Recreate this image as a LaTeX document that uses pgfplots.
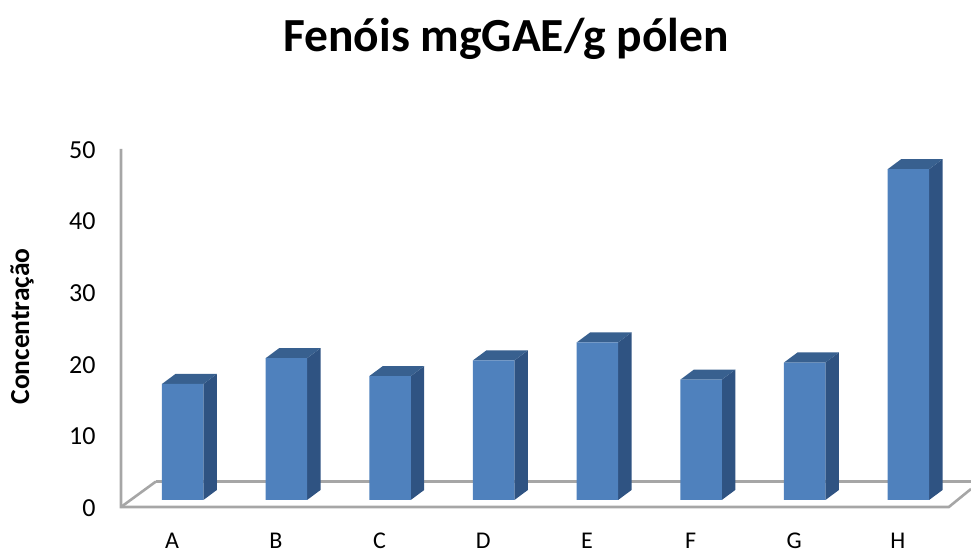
\documentclass[border=0pt]{standalone}
\usepackage{fontspec}
\setmainfont{Carlito}
\usepackage{pgfplots}
\pgfplotsset{compat=1.18}

\definecolor{barfront}{HTML}{4F81BD}
\definecolor{barside}{HTML}{2F5382}
\definecolor{bartop}{HTML}{38608F}
\definecolor{wall}{HTML}{A6A6A6}

% side and top face of one bar: position, value
\newcommand{\barsides}[2]{%
  \pgfmathsetmacro{\xa}{#1-0.2}
  \pgfmathsetmacro{\xb}{#1+0.2}
  \pgfmathsetmacro{\xc}{#1-0.07}
  \pgfmathsetmacro{\xd}{#1+0.33}
  \pgfmathsetmacro{\yt}{#2+1.4}
  \addplot[draw=none, fill=barside, forget plot] coordinates {(\xb,0) (\xd,1.4) (\xd,\yt) (\xb,#2)} -- cycle;
  \addplot[draw=none, fill=bartop, forget plot] coordinates {(\xa,#2) (\xc,\yt) (\xd,\yt) (\xb,#2)} -- cycle;
}

\begin{document}
\begin{tikzpicture}[x=1bp,y=1bp]
\path[use as bounding box] (0,0) rectangle (971,552);
\begin{axis}[
  at={(121bp,45bp)}, anchor=south west,
  scale only axis, width=850bp, height=358bp,
  xmin=-0.595, xmax=7.604, ymin=-0.98, ymax=49.02,
  clip=false,
  axis line style={draw=none},
  major tick length=0pt,
  xtick={0,...,7},
  xticklabels={A,B,C,D,E,F,G,H},
  ytick={-0.98,9.02,19.02,29.02,39.02,49.02},
  yticklabels={0,10,20,30,40,50},
  xticklabel style={font=\fontsize{24bp}{24bp}\selectfont, anchor=center, inner sep=0pt, xshift=-10.5bp, yshift=-34bp},
  yticklabel style={font=\fontsize{26bp}{30bp}\selectfont, anchor=east, xshift=-22bp, yshift=-1bp},
  title={Fenóis mgGAE/g pólen},
  title style={font=\fontsize{47.5bp}{56bp}\selectfont\bfseries, at={(axis description cs:0.453,1.291)}, anchor=center},
  ylabel={Concentração},
  ylabel style={font=\fontsize{27.5bp}{32bp}\selectfont\bfseries, at={(axis description cs:-0.1165,0.504)}, anchor=center},
]
% back and front of the floor, wall
\addplot[wall, line width=2.6bp, forget plot] coordinates {(-0.258,2.58) (7.604,2.58)};
\addplot[wall, line width=2.6bp, forget plot] coordinates {(-0.595,49.02) (-0.595,-0.98) (7.39,-0.98) (7.604,1.54)};
\addplot[wall, line width=2.6bp, forget plot] coordinates {(-0.595,-0.98) (-0.258,2.58)};

\barsides{0}{16.2}
\barsides{1}{19.8}
\barsides{2}{17.3}
\barsides{3}{19.5}
\barsides{4}{22.0}
\barsides{5}{16.8}
\barsides{6}{19.2}
\barsides{7}{46.2}

\addplot[ybar, bar width=41.5bp, bar shift=0pt, draw=none, fill=barfront] coordinates {
  (0,16.2) (1,19.8) (2,17.3) (3,19.5) (4,22.0) (5,16.8) (6,19.2) (7,46.2)
};
\end{axis}
\end{tikzpicture}
\end{document}
